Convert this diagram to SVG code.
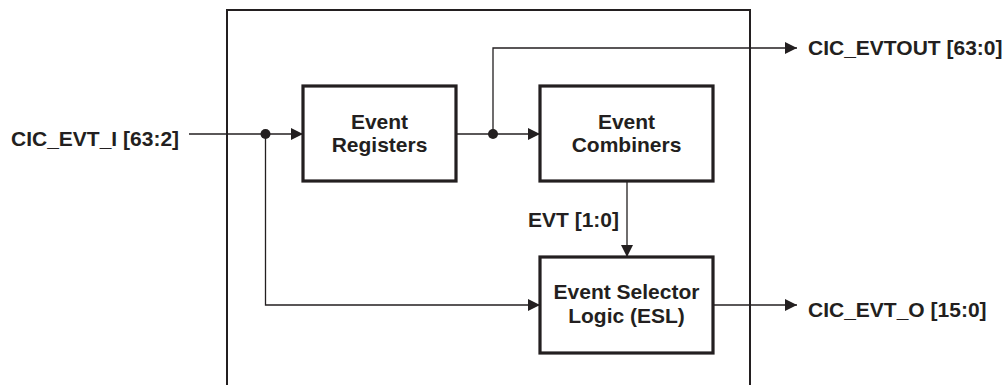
<svg xmlns="http://www.w3.org/2000/svg" width="1005" height="385" viewBox="0 0 1005 385">
<defs>
<style>
.box{fill:#fff;stroke:#231f20;stroke-width:3.2}
.outer{fill:none;stroke:#231f20;stroke-width:2}
.wire{fill:none;stroke:#231f20;stroke-width:1.3}
.lbl{font-family:"Liberation Sans",Arial,sans-serif;font-weight:bold;font-size:21px;fill:#231f20}
.mid{text-anchor:middle}
.dot{fill:#231f20}
</style>
<marker id="arr" viewBox="0 0 12 12" refX="12" refY="6" markerWidth="12" markerHeight="12" markerUnits="userSpaceOnUse" orient="auto">
<path d="M0,0 L12,6 L0,12 Z" fill="#231f20"/>
</marker>
</defs>
<rect x="227" y="10" width="523" height="390" class="outer"/>
<g id="connectors">
<path class="wire" d="M189,134 H303" marker-end="url(#arr)"/>
<path class="wire" d="M456,134 H540" marker-end="url(#arr)"/>
<path class="wire" d="M493,134 V48 H797" marker-end="url(#arr)"/>
<path class="wire" d="M627,181 V257" marker-end="url(#arr)"/>
<path class="wire" d="M265.5,134 V305 H540" marker-end="url(#arr)"/>
<path class="wire" d="M713,305 H797" marker-end="url(#arr)"/>
<circle class="dot" cx="265.5" cy="134" r="5"/>
<circle class="dot" cx="493" cy="134" r="5"/>
</g>
<g id="event-registers">
<rect class="box" x="303" y="86" width="153" height="95"/>
<text class="lbl mid" x="379.5" y="129">Event</text>
<text class="lbl mid" x="379.5" y="152">Registers</text>
</g>
<g id="event-combiners">
<rect class="box" x="540" y="86" width="173" height="95"/>
<text class="lbl mid" x="626.5" y="129">Event</text>
<text class="lbl mid" x="626.5" y="152">Combiners</text>
</g>
<g id="esl">
<rect class="box" x="540" y="257" width="173" height="96"/>
<text class="lbl mid" x="626.5" y="299">Event Selector</text>
<text class="lbl mid" x="626.5" y="323">Logic (ESL)</text>
</g>
<g id="labels">
<text class="lbl" x="11" y="146">CIC_EVT_I [63:2]</text>
<text class="lbl" x="808" y="55">CIC_EVTOUT [63:0]</text>
<text class="lbl" x="808" y="317">CIC_EVT_O [15:0]</text>
<text class="lbl" x="528" y="227">EVT [1:0]</text>
</g>
</svg>
